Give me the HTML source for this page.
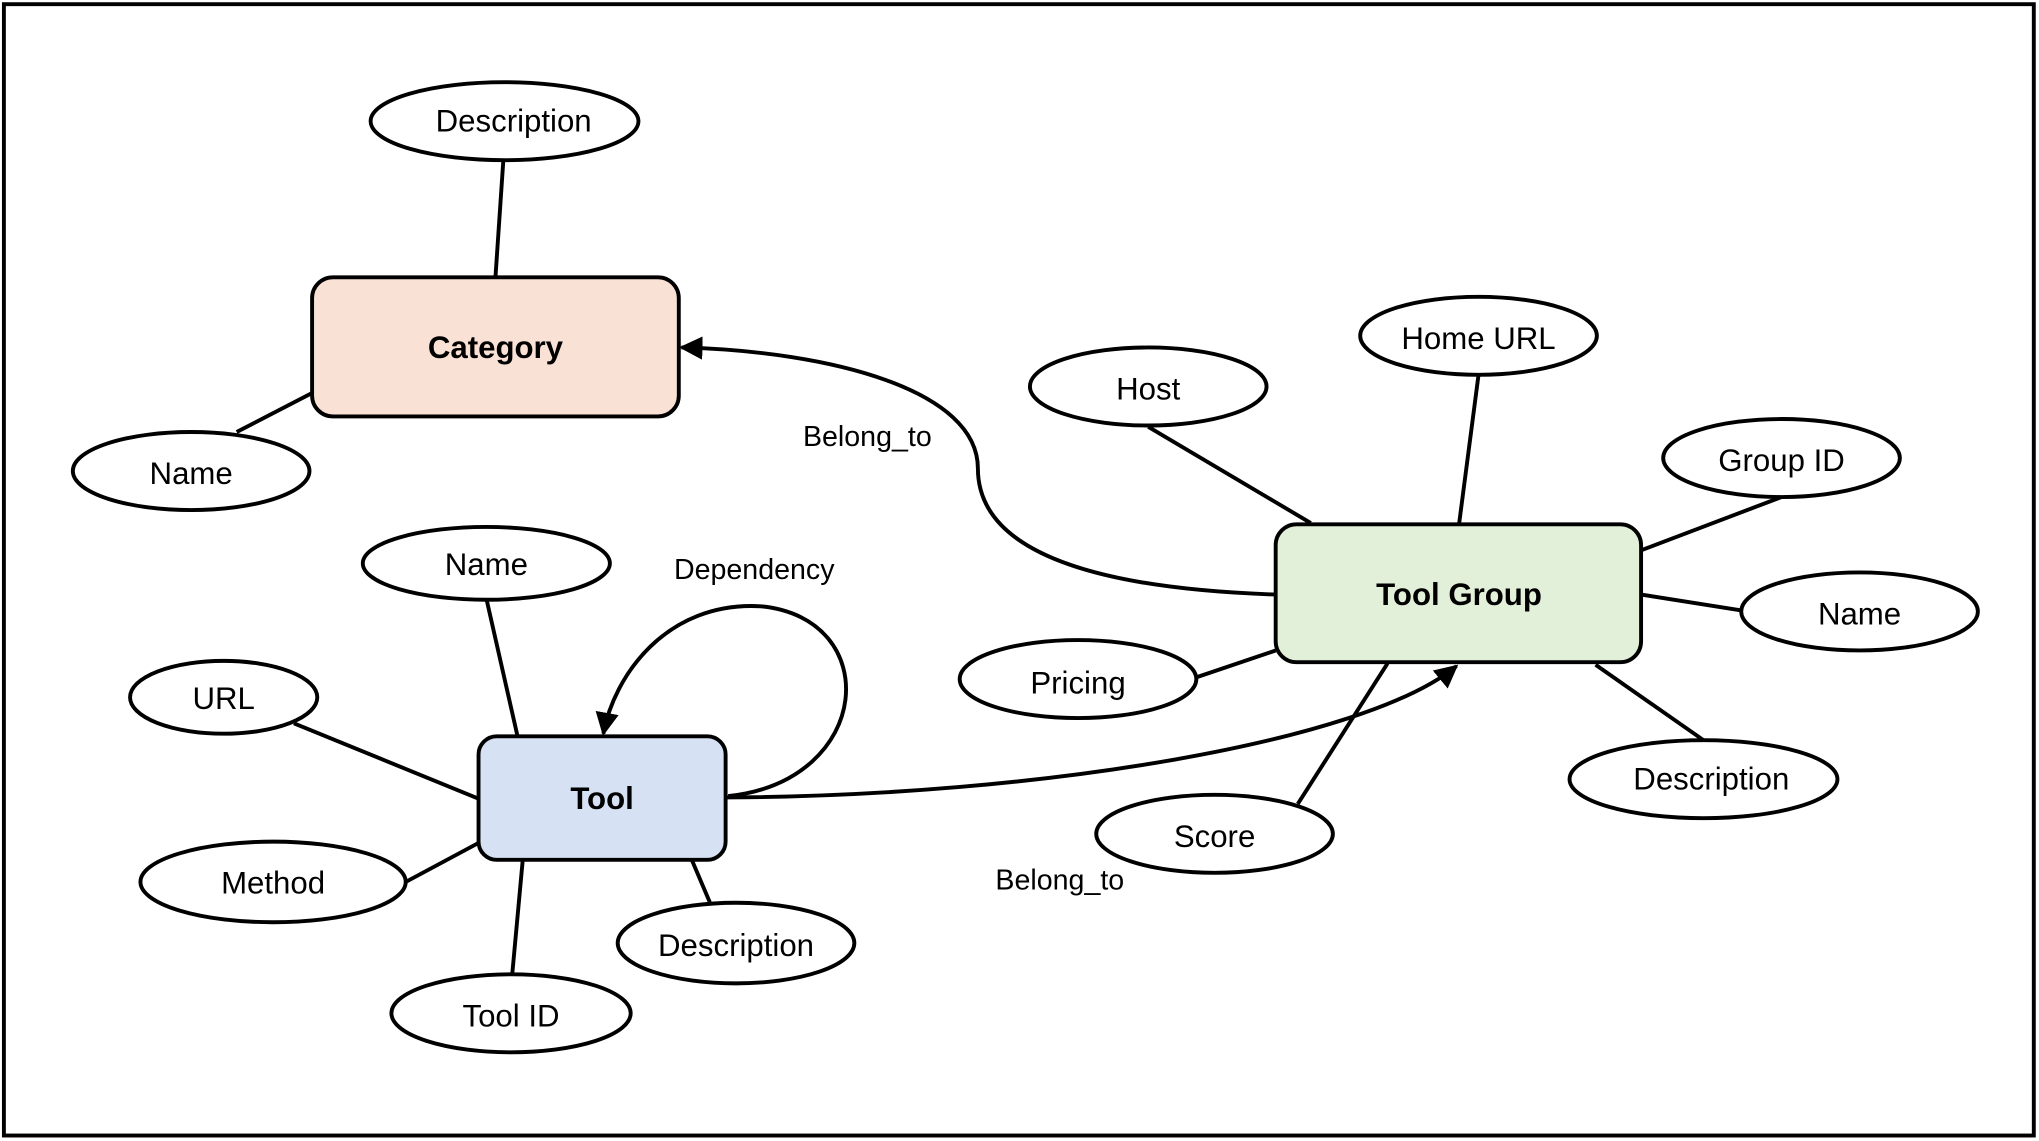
<!DOCTYPE html>
<html><head><meta charset="utf-8"><style>html,body{margin:0;padding:0;background:#fff}svg{display:block}</style></head><body>
<svg width="2039" height="1141" viewBox="0 0 1568 877" xmlns="http://www.w3.org/2000/svg" font-family="Liberation Sans, Arial, sans-serif">
<defs>
<marker id="a2" viewBox="0 0 10 10" refX="9" refY="5" markerWidth="18" markerHeight="18" orient="auto" markerUnits="userSpaceOnUse"><path d="M0,0 L10,5 L0,10 z" fill="#000"/></marker></defs>
<rect x="3" y="3" width="1561" height="870" fill="#fff" stroke="#000" stroke-width="3"/>
<g stroke="#000" stroke-width="3" fill="none">
<line x1="387" y1="124" x2="381" y2="213"/>
<line x1="182" y1="332" x2="240" y2="302"/>
<line x1="1137" y1="288" x2="1122" y2="403"/>
<line x1="883" y1="328" x2="1008" y2="402"/>
<line x1="1370" y1="382" x2="1262" y2="423"/>
<line x1="1262" y1="457" x2="1338" y2="469"/>
<line x1="1227" y1="511" x2="1310" y2="569"/>
<line x1="919" y1="521" x2="981" y2="500"/>
<line x1="998" y1="618" x2="1067" y2="510"/>
<line x1="374" y1="460" x2="398" y2="566"/>
<line x1="226" y1="556" x2="368" y2="614"/>
<line x1="312" y1="678" x2="368" y2="648"/>
<line x1="394" y1="748" x2="402" y2="661"/>
<line x1="546" y1="694" x2="532" y2="661"/>
<path d="M981,457 C830,452 752,420 752,360 C752,300 640,270 524,267" marker-end="url(#a2)"/>
<path d="M558,613 C800,612 1050,570 1120,512" marker-end="url(#a2)"/>
<path d="M560,612 C672,600 680,475 585,466 C512,462 472,520 464,564" marker-end="url(#a2)"/>
</g>
<g stroke="#000" stroke-width="3">
<rect x="240" y="213" width="282" height="107" rx="16" fill="#f9e2d5"/>
<rect x="981" y="403" width="281" height="106" rx="16" fill="#e2efd9"/>
<rect x="368" y="566" width="190" height="95" rx="14" fill="#d6e2f3"/>
<g fill="#fff">
<ellipse cx="388" cy="93" rx="103" ry="30"/>
<ellipse cx="147" cy="362" rx="91" ry="30"/>
<ellipse cx="1137" cy="258" rx="91" ry="30"/>
<ellipse cx="883" cy="297" rx="91" ry="30"/>
<ellipse cx="1370" cy="352" rx="91" ry="30"/>
<ellipse cx="1430" cy="470" rx="91" ry="30"/>
<ellipse cx="1310" cy="599" rx="103" ry="30"/>
<ellipse cx="829" cy="522" rx="91" ry="30"/>
<ellipse cx="934" cy="641" rx="91" ry="30"/>
<ellipse cx="374" cy="433" rx="95" ry="28"/>
<ellipse cx="172" cy="536" rx="72" ry="28"/>
<ellipse cx="210" cy="678" rx="102" ry="31"/>
<ellipse cx="393" cy="779" rx="92" ry="30"/>
<ellipse cx="566" cy="725" rx="91" ry="31"/>
</g></g>
<g font-size="24" text-anchor="middle" dominant-baseline="central" fill="#000">
<text x="395" y="93">Description</text>
<text x="147" y="364">Name</text>
<text x="1137" y="260">Home URL</text>
<text x="883" y="299">Host</text>
<text x="1370" y="354">Group ID</text>
<text x="1430" y="472">Name</text>
<text x="1316" y="599">Description</text>
<text x="829" y="525">Pricing</text>
<text x="934" y="643">Score</text>
<text x="374" y="434">Name</text>
<text x="172" y="537">URL</text>
<text x="210" y="679">Method</text>
<text x="393" y="781">Tool ID</text>
<text x="566" y="727">Description</text>
<g font-weight="bold">
<text x="381" y="267">Category</text>
<text x="1122" y="457">Tool Group</text>
<text x="463" y="614">Tool</text>
</g>
<g font-size="22">
<text x="667" y="336">Belong_to</text>
<text x="815" y="677">Belong_to</text>
<text x="580" y="438">Dependency</text>
</g></g>
</svg>
</body></html>
